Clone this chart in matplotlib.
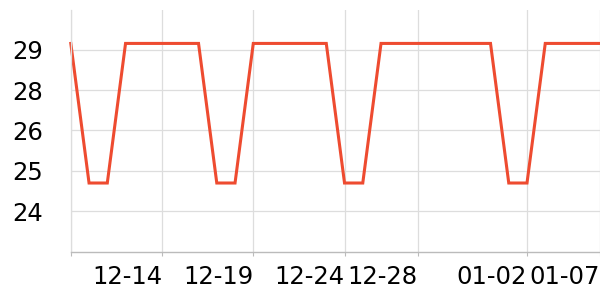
import matplotlib
matplotlib.use("Agg")
import matplotlib.pyplot as plt

# one value per category (day)
values = [29.1, 24.77, 24.77, 29.1, 29.1, 29.1, 29.1, 29.1, 24.77, 24.77,
          29.1, 29.1, 29.1, 29.1, 29.1, 24.77, 24.77, 29.1, 29.1, 29.1,
          29.1, 29.1, 29.1, 29.1, 24.77, 24.77, 29.1, 29.1, 29.1, 29.1]
x_tick_idx = [0, 5, 10, 15, 19, 25, 29]
x_tick_labels = ["", "12-14", "12-19", "12-24", "12-28", "01-02", "01-07"]
y_ticks = [28.9, 27.65, 26.4, 25.15, 23.9]

fig = plt.figure(figsize=(6, 3), dpi=100)
ax = fig.add_axes([0.118, 0.16, 0.882, 0.807])

ax.plot(range(len(values)), values, color="#ee4b30", linewidth=2.2, solid_joinstyle="miter", clip_on=False)

ax.set_xlim(0, len(values) - 1)
ax.set_ylim(22.63, 30.14)
ax.set_xticks(x_tick_idx)
ax.set_xticklabels(x_tick_labels, ha="right")
ax.set_yticks(y_ticks)
ax.set_yticklabels(["%.0f" % v for v in y_ticks])

ax.grid(True, color="#dddddd", linewidth=0.9)
ax.set_axisbelow(True)
for s in ["top", "right"]:
    ax.spines[s].set_visible(False)
ax.spines["left"].set_color("#dddddd")
ax.spines["left"].set_linewidth(0.9)
ax.spines["bottom"].set_color("#bbbbbb")
ax.spines["bottom"].set_linewidth(1.0)

ax.tick_params(axis="y", length=0, pad=20, labelsize=17.5)
ax.tick_params(axis="x", length=3, color="#bbbbbb", pad=6, labelsize=17.5)

fig.savefig("out.png", dpi=100)
